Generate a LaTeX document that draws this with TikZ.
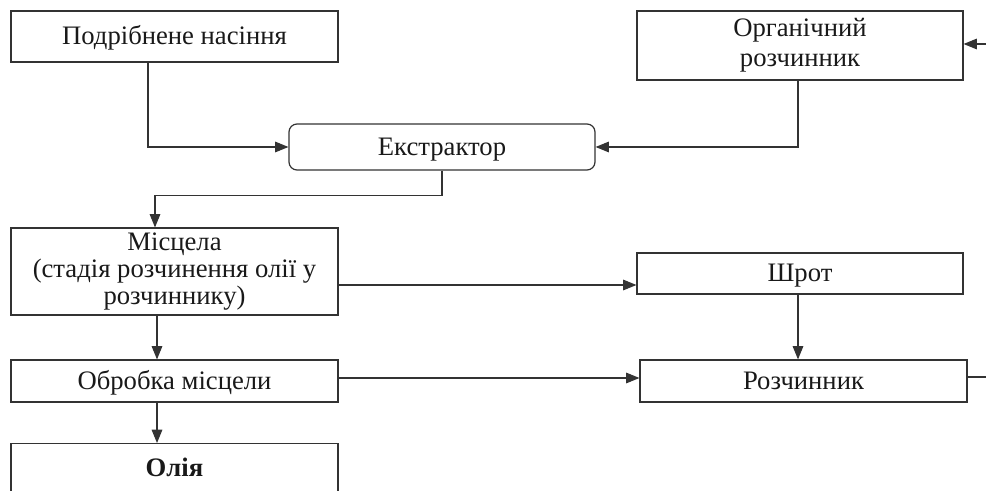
\documentclass[tikz,border=0pt]{standalone}
\usepackage{fontspec}
\setmainfont{Liberation Serif}
\usetikzlibrary{arrows.meta,calc}
\begin{document}
\begin{tikzpicture}[x=0.75pt,y=-0.75pt,
  every node/.style={font=\fontsize{20}{20.5}\selectfont, text=black!90},
  box/.style={draw=black!80, line width=0.9pt, rectangle, inner sep=0pt, align=center},
  one/.style={text height=17pt, text depth=4.5pt},
  rbox/.style={box, rounded corners=6pt},
  conn/.style={draw=black!80, line width=0.8pt},
  arr/.style={conn, -{Triangle[length=10pt,width=8pt]}}]
\useasboundingbox (0,0) rectangle (986,491);
\clip (0,0) rectangle (986,491);
\node[box, one, minimum width=327*0.75pt, minimum height=51*0.75pt] (A) at (174.5,36.5) {Подрібнене насіння};
\node[box, minimum width=326*0.75pt, minimum height=69*0.75pt, font=\fontsize{20}{22.5}\selectfont] (B) at (800,45.5) {Органічний\\розчинник};
\node[rbox, one, minimum width=306*0.75pt, minimum height=46*0.75pt] (E) at (442,147) {Екстрактор};
\node[box, minimum width=327*0.75pt, minimum height=87*0.75pt] (M) at (174.5,271.5) {Місцела\\(стадія розчинення олії у\\розчиннику)};
\node[box, one, minimum width=326*0.75pt, minimum height=41*0.75pt] (S) at (800,273.5) {Шрот};
\node[box, one, minimum width=327*0.75pt, minimum height=42*0.75pt] (O) at (174.5,381) {Обробка місцели};
\node[box, one, minimum width=327*0.75pt, minimum height=42*0.75pt] (R) at (803.5,381) {Розчинник};
\node[box, minimum width=327*0.75pt, minimum height=70*0.75pt, anchor=north] (L) at (174.5,443) {};
\node[font=\fontsize{20}{20.5}\selectfont\bfseries] (Lt) at (174.5,467) {Олія};
\coordinate (inB) at (990,44);
\coordinate (outR) at (990,377);
\coordinate (a1) at ($(A.south)+(-26.5,0)$);
\coordinate (b1) at ($(B.south)+(-2,0)$);
\coordinate (m1) at ($(M.north)+(-19.5,0)$);
\coordinate (m2) at ($(M.east)+(0,13.5)$);
\coordinate (s1) at ($(S.south)+(-2,0)$);
\coordinate (m3) at ($(M.south)+(-17.5,0)$);
\coordinate (o1) at ($(O.east)+(0,-3)$);
\coordinate (o2) at ($(O.south)+(-17.5,0)$);
\coordinate (r1) at ($(R.east)+(0,-4)$);
\draw[arr] (inB) -- (inB -| B.east);
\draw[arr] (a1) |- (E.west);
\draw[arr] (b1) |- (E.east);
\draw[arr] (E.south) -- ++(0,25) -| (m1);
\draw[arr] (m2) -- (m2 -| S.west);
\draw[arr] (s1) -- (s1 |- R.north);
\draw[arr] (m3) -- (m3 |- O.north);
\draw[arr] (o1) -- (o1 -| R.west);
\draw[arr] (o2) -- (o2 |- L.north);
\draw[conn] (r1) -- (r1 -| outR);
\end{tikzpicture}
\end{document}
